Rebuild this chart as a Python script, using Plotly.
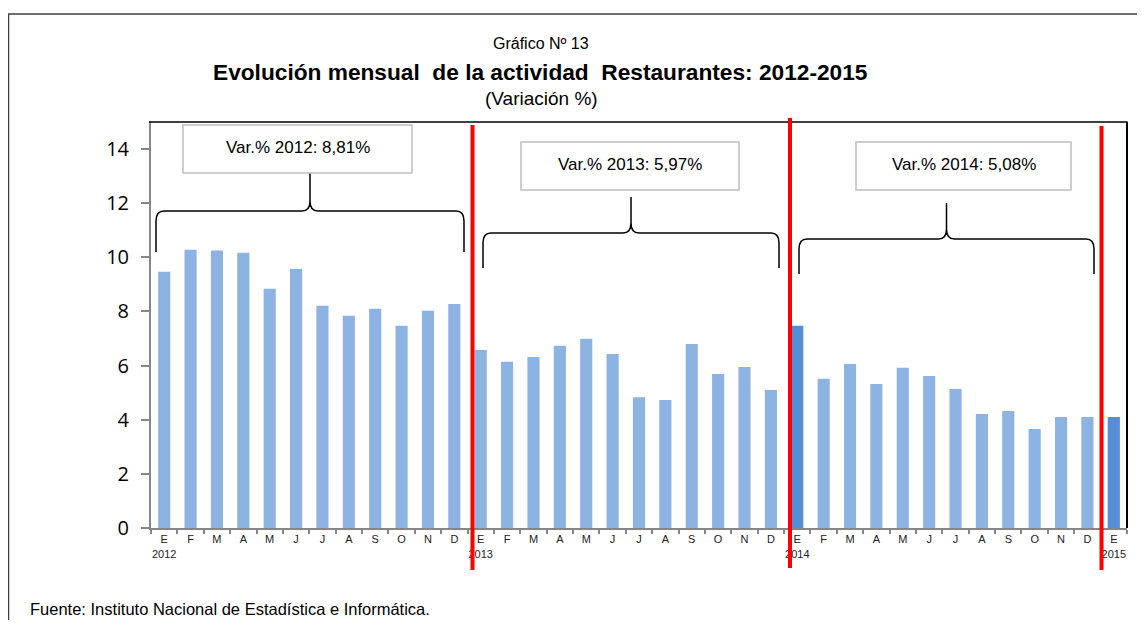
import plotly.graph_objects as go

months = ["E", "F", "M", "A", "M", "J", "J", "A", "S", "O", "N", "D"]
years = ["2012", "2013", "2014", "2015"]
values_2012 = [9.47, 10.28, 10.25, 10.17, 8.84, 9.57, 8.21, 7.84, 8.10, 7.47, 8.03, 8.28]
values_2013 = [6.58, 6.14, 6.32, 6.73, 6.99, 6.43, 4.83, 4.73, 6.80, 5.69, 5.95, 5.10]
values_2014 = [7.47, 5.51, 6.06, 5.32, 5.92, 5.62, 5.14, 4.21, 4.32, 3.66, 4.10, 4.10]
values_2015 = [4.10]
annual_labels = ["Var.% 2012: 8,81%", "Var.% 2013: 5,97%", "Var.% 2014: 5,08%"]

values = values_2012 + values_2013 + values_2014 + values_2015
n = len(values)
xs = list(range(n))
tick_text = []
for i in range(n):
    m = months[i % 12]
    if i % 12 == 0:
        tick_text.append(f"{m}<br>{years[i // 12]}")
    else:
        tick_text.append(m)

LIGHT = "#8DB3E2"
DARK = "#558ED5"
colors = [LIGHT] * n
colors[24] = DARK
colors[36] = DARK

NARROW = "Liberation Sans Narrow, Arial Narrow, Liberation Sans, Arial, sans-serif"

fig = go.Figure()
fig.add_trace(go.Bar(x=xs, y=values, marker=dict(color=colors, line=dict(width=0)),
                     width=0.46, hoverinfo="x+y"))

# page offset (body margin) and plot area in page pixels: x 151..1127, y 122..528
OFF = 8
W, H = 1145 - 2 * OFF, 628 - 2 * OFF
L, R, T, B = 151, 1127, 122, 528
def px2x(p):
    return (p - L) / (R - L) * n - 0.5
def py2y(p):
    return (B - p) / (B - T) * 15.0
def px2paper(p):
    return (p - L) / (R - L)
def py2paper(p):
    return (B - p) / (B - T)

shapes = []
# outer frame
shapes.append(dict(type="rect", xref="paper", yref="paper",
                   x0=px2paper(8.5), x1=px2paper(1170), y0=py2paper(14), y1=py2paper(660),
                   line=dict(color="#404040", width=1.5), layer="below"))
# top and right plot border
shapes.append(dict(type="line", xref="paper", yref="paper", x0=px2paper(149), x1=px2paper(1127.5),
                   y0=1, y1=1, line=dict(color="black", width=1.5)))
shapes.append(dict(type="line", xref="paper", yref="paper", x0=px2paper(1127), x1=px2paper(1127),
                   y0=0, y1=1, line=dict(color="black", width=2), layer="above"))

# braces
def brace(p0, p1, pb, pm, pt):
    x0, x1, xc = px2x(p0), px2x(p1), px2x((p0 + p1) / 2)
    yb, ym, yt = py2y(pb), py2y(pm), py2y(pt)
    cx = 8 / 26.38
    cy = 10 / 27.07
    d = (f"M {x0},{yb} L {x0},{ym - cy} Q {x0},{ym} {x0 + cx},{ym} "
         f"L {xc - cx},{ym} Q {xc},{ym} {xc},{ym + cy} L {xc},{yt} "
         f"M {xc},{ym + cy} Q {xc},{ym} {xc + cx},{ym} "
         f"L {x1 - cx},{ym} Q {x1},{ym} {x1},{ym - cy} L {x1},{yb}")
    return dict(type="path", xref="x", yref="y", path=d, line=dict(color="black", width=1.5))

shapes.append(brace(156, 464, 252, 211, 170))
shapes.append(brace(483, 779, 268, 233, 197))
shapes.append(brace(799, 1094, 274, 239, 203))

# red separators
for px, ptop, pbot in [(472.5, 125, 570), (790, 118, 568), (1101.5, 126, 570)]:
    shapes.append(dict(type="line", xref="x", yref="paper", x0=px2x(px), x1=px2x(px),
                       y0=py2paper(pbot), y1=py2paper(ptop),
                       line=dict(color="#FF0000", width=4), layer="above"))

annotations = []
# text boxes
boxes = [(183, 412, 125, 173), (521, 739, 142, 190), (856, 1071, 142, 190)]
for (bx0, bx1, by0, by1), txt in zip(boxes, annual_labels):
    shapes.append(dict(type="rect", xref="x", yref="y", x0=px2x(bx0), x1=px2x(bx1),
                       y0=py2y(by1), y1=py2y(by0), line=dict(color="#BFBFBF", width=1.5),
                       fillcolor="white"))
    annotations.append(dict(xref="x", yref="y", x=px2x((bx0 + bx1) / 2), y=py2y((by0 + by1) / 2 - 2),
                            text=txt, showarrow=False, xanchor="center", yanchor="middle",
                            font=dict(family=NARROW, size=17, color="black")))

annotations += [
    dict(xref="paper", yref="paper", x=px2paper(541), y=py2paper(43), text="Gráfico Nº 13",
         showarrow=False, xanchor="center", yanchor="middle",
         font=dict(family=NARROW, size=16, color="black")),
    dict(xref="paper", yref="paper", x=px2paper(540), y=py2paper(72),
         text="<b>Evolución mensual  de la actividad  Restaurantes: 2012-2015</b>",
         showarrow=False, xanchor="center", yanchor="middle",
         font=dict(family=NARROW, size=22.7, color="black")),
    dict(xref="paper", yref="paper", x=px2paper(541), y=py2paper(99), text="(Variación %)",
         showarrow=False, xanchor="center", yanchor="middle",
         font=dict(family=NARROW, size=19, color="black")),
    dict(xref="paper", yref="paper", x=px2paper(28), y=py2paper(609),
         text="Fuente: Instituto Nacional de Estadística e Informática.",
         showarrow=False, xanchor="left", yanchor="middle",
         font=dict(family=NARROW, size=16.5, color="black")),
]

fig.update_layout(
    width=W, height=H,
    margin=dict(l=L - OFF, r=(1145 - OFF) - R, t=T - OFF, b=(628 - OFF) - B, pad=0),
    paper_bgcolor="white", plot_bgcolor="white",
    showlegend=False,
    shapes=shapes, annotations=annotations,
    xaxis=dict(range=[-0.5, n - 0.5], tickmode="array", tickvals=xs, ticktext=tick_text,
               ticks="", showgrid=False, zeroline=False,
               showline=True, linecolor="#868686", linewidth=2,
               tickfont=dict(family="Liberation Sans, Arial, sans-serif", size=11, color="#222"),
               minor=dict(tickvals=[i - 0.5 for i in range(n + 1)], ticks="outside",
                          ticklen=4, tickcolor="#868686", tickwidth=1.5, showgrid=False),
               fixedrange=True),
    yaxis=dict(range=[0, 15], tickvals=[0, 2, 4, 6, 8, 10, 12, 14], ticks="outside",
               ticklen=8, tickcolor="#868686", tickwidth=1.5, ticklabelstandoff=8,
               showgrid=False, zeroline=False, showline=True, linecolor="#868686", linewidth=2,
               tickfont=dict(family="Open Sans, sans-serif", size=20, color="black"),
               fixedrange=True),
)

fig.write_html("out.html")
